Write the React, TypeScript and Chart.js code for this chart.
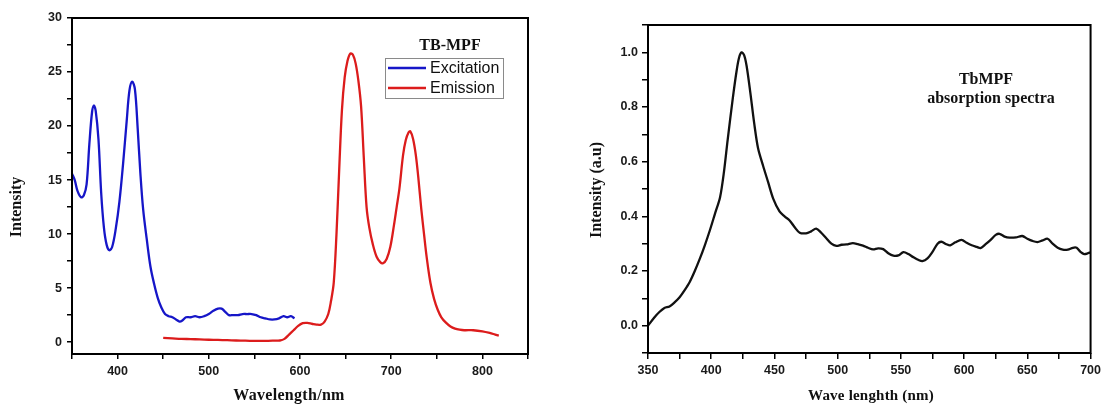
import React, { useEffect, useRef } from "react";
import { Chart, registerables } from "chart.js";

Chart.register(...registerables);

// ---------- Left chart: TB-MPF excitation / emission ----------
const excitationWl = [
  350, 353, 356, 360, 363, 366, 369, 372, 374, 376, 379, 382, 385, 388, 391, 394, 398, 402, 406, 410,
  413, 416, 419, 422, 425, 428, 432, 436, 440, 444, 448, 452, 456, 460, 464, 468, 471, 475, 480, 485,
  490, 495, 500, 505, 510, 514, 518, 522, 527, 532, 537, 542, 547, 552, 557, 562, 567, 572, 577, 582,
  586, 590, 594,
];
const excitationVal = [
  15.6, 15.0, 14.0, 13.4, 13.6, 14.6, 18.3, 21.3, 21.9, 21.4, 18.8, 13.8, 10.6, 9.0, 8.5, 8.8, 10.5, 13.0, 16.5, 20.5,
  23.3, 24.1, 23.4, 19.8, 15.6, 12.3, 9.5, 7.0, 5.4, 4.1, 3.2, 2.6, 2.4, 2.3, 2.1, 1.9, 2.0, 2.3, 2.3, 2.4,
  2.3, 2.4, 2.6, 2.9, 3.1, 3.1, 2.8, 2.5, 2.5, 2.5, 2.6, 2.6, 2.6, 2.5, 2.3, 2.2, 2.1, 2.1, 2.2, 2.4,
  2.3, 2.4, 2.2,
];
const emissionWl = [
  450, 460, 470, 480, 490, 500, 510, 520, 530, 540, 550, 560, 570, 578, 583, 588, 593, 598, 603, 608,
  613, 618, 623, 627, 631, 634, 637, 640, 643, 646, 649, 652, 655, 658, 661, 664, 667, 670, 673, 676,
  680, 684, 688, 691, 695, 699, 703, 706, 709, 713, 716, 719, 721, 724, 727, 730, 733, 736, 739, 743,
  747, 751, 755, 760, 765, 770, 775, 780, 790, 800, 808, 814, 818,
];
const emissionVal = [
  0.4, 0.35, 0.3, 0.28, 0.25, 0.22, 0.2, 0.18, 0.15, 0.13, 0.12, 0.12, 0.13, 0.15, 0.3, 0.7, 1.1, 1.5, 1.75, 1.78,
  1.7, 1.62, 1.62, 1.9, 2.6, 3.8, 5.5, 10.0, 16.0, 21.5, 24.5, 26.0, 26.7, 26.6, 25.8, 24.2, 21.8, 17.0, 12.5, 10.6,
  9.0, 7.9, 7.4, 7.3, 7.7, 8.8, 10.8, 12.5, 14.2, 17.3, 18.7, 19.4, 19.5, 18.8, 17.3, 15.0, 12.3, 10.0, 7.8, 5.5,
  4.0, 3.0, 2.3, 1.8, 1.45, 1.25, 1.15, 1.1, 1.1, 1.0, 0.85, 0.7, 0.6,
];

// ---------- Right chart: TbMPF absorption ----------
const absorptionWl = [
  350, 355, 359, 363, 367, 371, 375, 379, 383, 387, 391, 395, 399, 403, 407, 410, 413, 417, 420, 422,
  424, 426, 428, 431, 434, 437, 441, 445, 449, 454, 458, 462, 466, 470, 475, 479, 483, 487, 491, 495,
  499, 503, 507, 512, 516, 520, 524, 528, 532, 536, 540, 544, 548, 552, 556, 560, 564, 567, 571, 575,
  579, 582, 586, 589, 593, 598, 602, 606, 610, 613, 617, 621, 625, 628, 632, 636, 641, 646, 650, 654,
  658, 662, 666, 670, 674, 678, 682, 686, 689, 692, 695, 698, 700,
];
const absorptionVal = [
  0.0, 0.03, 0.05, 0.065, 0.07, 0.085, 0.104, 0.13, 0.16, 0.2, 0.245, 0.295, 0.35, 0.41, 0.47, 0.56, 0.68, 0.83, 0.93, 0.98,
  1.0, 0.99, 0.95, 0.85, 0.74, 0.65, 0.585, 0.525, 0.465, 0.418, 0.4, 0.385, 0.36, 0.34, 0.338, 0.345, 0.355, 0.34, 0.32, 0.3,
  0.292, 0.296, 0.297, 0.302, 0.298, 0.293, 0.285, 0.279, 0.283, 0.28, 0.265, 0.256, 0.257, 0.269, 0.262, 0.25, 0.24, 0.236, 0.246, 0.27,
  0.3, 0.307, 0.298, 0.294, 0.305, 0.314, 0.303, 0.294, 0.288, 0.284, 0.298, 0.314, 0.332, 0.336, 0.326, 0.322, 0.323, 0.328, 0.318, 0.31,
  0.306, 0.312, 0.318, 0.3, 0.285, 0.278, 0.278, 0.285, 0.285, 0.27, 0.262, 0.265, 0.268,
];

const SERIF = "'Liberation Serif', 'Times New Roman', serif";
const SANS = "'Liberation Sans', Arial, sans-serif";

type TextItem = { text: string; x: number; y: number; size: number; rotate?: boolean; family?: string; bold?: boolean; spacing?: number };

const framePlugin = {
  id: "frame",
  afterDatasetsDraw(chart: any, _args: any, opts: any) {
    const { ctx, chartArea: a } = chart;
    ctx.save();
    ctx.strokeStyle = "#000";
    ctx.lineWidth = 2;
    ctx.strokeRect(a.left, a.top, a.right - a.left, a.bottom - a.top);
    ctx.restore();

    const texts: TextItem[] = opts.texts || [];
    for (const t of texts) {
      ctx.save();
      ctx.fillStyle = "#111";
      ctx.font = `${t.bold === false ? "" : "bold "}${t.size}px ${t.family || SERIF}`;
      ctx.textAlign = "center";
      ctx.textBaseline = "middle";
      if (t.spacing) (ctx as any).letterSpacing = `${t.spacing}px`;
      ctx.translate(t.x, t.y);
      if (t.rotate) ctx.rotate(-Math.PI / 2);
      ctx.fillText(t.text, 0, 0);
      ctx.restore();
    }

    const lg = opts.legend;
    if (lg) {
      ctx.save();
      ctx.strokeStyle = "#8a8a8a";
      ctx.lineWidth = 1;
      ctx.strokeRect(lg.x + 0.5, lg.y + 0.5, lg.w, lg.h);
      ctx.font = `16px ${SANS}`;
      ctx.textAlign = "left";
      ctx.textBaseline = "middle";
      chart.data.datasets.forEach((ds: any, i: number) => {
        const yy = lg.y + 10 + i * 20;
        ctx.strokeStyle = ds.borderColor;
        ctx.lineWidth = 2.5;
        ctx.beginPath();
        ctx.moveTo(lg.x + 3, yy);
        ctx.lineTo(lg.x + 41, yy);
        ctx.stroke();
        ctx.fillStyle = "#111";
        ctx.fillText(ds.label, lg.x + 45, yy + 1);
      });
      ctx.restore();
    }
  },
};

function toPoints(xs: number[], ys: number[]) {
  return xs.map((x, i) => ({ x, y: ys[i] }));
}

const tickFont = { family: SANS, size: 12.5, weight: "bold" as const };

function makeLeftConfig(): any {
  return {
    type: "line",
    data: {
      datasets: [
        {
          label: "Excitation",
          data: toPoints(excitationWl, excitationVal),
          borderColor: "#1616c8",
          borderWidth: 2.3,
          pointRadius: 0,
          tension: 0.35,
          fill: false,
        },
        {
          label: "Emission",
          data: toPoints(emissionWl, emissionVal),
          borderColor: "#dc1c1c",
          borderWidth: 2.3,
          pointRadius: 0,
          tension: 0.35,
          fill: false,
        },
      ],
    },
    options: {
      animation: false,
      responsive: false,
      devicePixelRatio: 1,
      layout: { padding: { top: 18, right: 32, bottom: 0, left: 0 } },
      plugins: {
        legend: { display: false },
        tooltip: { enabled: false },
        frame: {
          texts: [
            { text: "Intensity", x: 17, y: 207, size: 16, rotate: true },
            { text: "Wavelength/nm", x: 289, y: 396, size: 16, spacing: 0.3 },
            { text: "TB-MPF", x: 450, y: 46, size: 16 },
          ],
          legend: { x: 385, y: 58, w: 118, h: 40 },
        },
      },
      scales: {
        x: {
          type: "linear",
          min: 350,
          max: 850,
          afterFit: (s: any) => {
            s.height = 53;
          },
          ticks: {
            stepSize: 50,
            autoSkip: false,
            maxRotation: 0,
            includeBounds: false,
            padding: 5,
            color: "#1a1a1a",
            font: tickFont,
            callback: (v: number) => (v % 100 === 0 ? String(v) : ""),
          },
          grid: { drawOnChartArea: false, drawTicks: true, tickLength: 5, color: "#000", lineWidth: 1.5 },
          border: { display: false },
        },
        y: {
          type: "linear",
          min: -1.1,
          max: 30,
          afterFit: (s: any) => {
            s.width = 72;
          },
          ticks: {
            stepSize: 2.5,
            autoSkip: false,
            includeBounds: false,
            padding: 5,
            color: "#1a1a1a",
            font: tickFont,
            callback: (v: number) => (Math.abs(v % 5) < 1e-6 ? String(v) : ""),
          },
          grid: { drawOnChartArea: false, drawTicks: true, tickLength: 5, color: "#000", lineWidth: 1.5 },
          border: { display: false },
        },
      },
    },
    plugins: [framePlugin],
  };
}

function makeRightConfig(): any {
  return {
    type: "line",
    data: {
      datasets: [
        {
          label: "TbMPF absorption spectra",
          data: toPoints(absorptionWl, absorptionVal),
          borderColor: "#111111",
          borderWidth: 2.3,
          pointRadius: 0,
          tension: 0.3,
          fill: false,
        },
      ],
    },
    options: {
      animation: false,
      responsive: false,
      devicePixelRatio: 1,
      layout: { padding: { top: 25, right: 12, bottom: 0, left: 0 } },
      plugins: {
        legend: { display: false },
        tooltip: { enabled: false },
        frame: {
          texts: [
            { text: "Intensity (a.u)", x: 37, y: 190, size: 16, rotate: true },
            { text: "Wave lenghth (nm)", x: 311, y: 396, size: 15, spacing: 0.2 },
            { text: "TbMPF", x: 426, y: 80, size: 16 },
            { text: "absorption spectra", x: 431, y: 99, size: 16 },
          ],
        },
      },
      scales: {
        x: {
          type: "linear",
          min: 350,
          max: 700,
          afterFit: (s: any) => {
            s.height = 54;
          },
          ticks: {
            stepSize: 25,
            autoSkip: false,
            maxRotation: 0,
            includeBounds: false,
            padding: 4,
            color: "#1a1a1a",
            font: tickFont,
            callback: (v: number) => (v % 50 === 0 ? String(v) : ""),
          },
          grid: { drawOnChartArea: false, drawTicks: true, tickLength: 6, color: "#000", lineWidth: 1.5 },
          border: { display: false },
        },
        y: {
          type: "linear",
          min: -0.1,
          max: 1.1,
          afterFit: (s: any) => {
            s.width = 88;
          },
          ticks: {
            stepSize: 0.1,
            autoSkip: false,
            includeBounds: false,
            padding: 4,
            color: "#1a1a1a",
            font: tickFont,
            callback: (v: number) => {
              const k = Math.round(v * 10);
              return k % 2 === 0 ? (k / 10).toFixed(1) : "";
            },
          },
          grid: { drawOnChartArea: false, drawTicks: true, tickLength: 6, color: "#000", lineWidth: 1.5 },
          border: { display: false },
        },
      },
    },
    plugins: [framePlugin],
  };
}

export default function App() {
  const leftRef = useRef<HTMLCanvasElement | null>(null);
  const rightRef = useRef<HTMLCanvasElement | null>(null);

  useEffect(() => {
    const charts: Chart[] = [];
    if (leftRef.current) charts.push(new Chart(leftRef.current, makeLeftConfig()));
    if (rightRef.current) charts.push(new Chart(rightRef.current, makeRightConfig()));
    return () => {
      charts.forEach((c) => c.destroy());
    };
  }, []);

  return (
    <div style={{ position: "absolute", left: 0, top: 0, width: 1105, height: 407, background: "#fff" }}>
      <canvas
        ref={leftRef}
        width={560}
        height={407}
        style={{ position: "absolute", left: 0, top: 0, width: 560, height: 407, display: "block" }}
      />
      <canvas
        ref={rightRef}
        width={545}
        height={407}
        style={{ position: "absolute", left: 560, top: 0, width: 545, height: 407, display: "block" }}
      />
    </div>
  );
}
